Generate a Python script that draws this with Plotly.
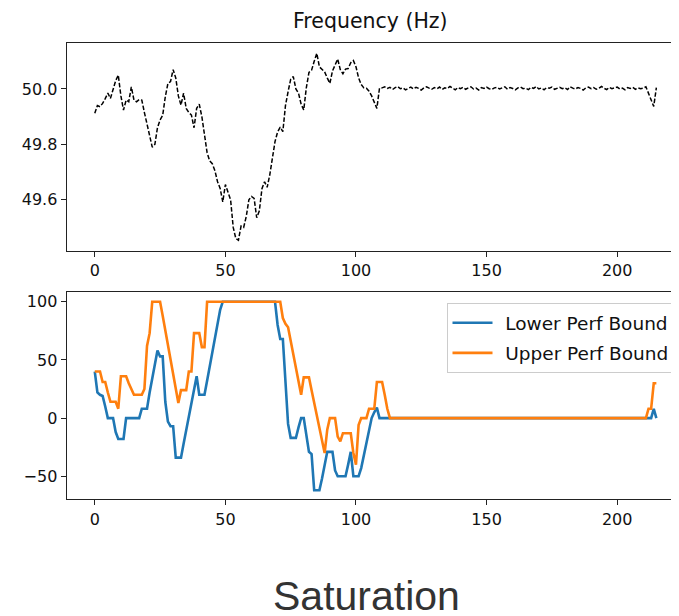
import plotly.graph_objects as go

# ---------------- data ----------------
time_idx = list(range(216))

freq_hz = [
    49.912, 49.940, 49.936, 49.948, 49.965, 49.985, 49.966, 49.995, 50.030, 50.050,
    49.975, 49.924, 49.960, 49.954, 50.008, 49.960, 49.954, 49.962, 49.960, 49.915,
    49.870, 49.834, 49.790, 49.800, 49.860, 49.888, 49.905, 49.972, 50.020, 50.027,
    50.070, 50.040, 49.975, 49.942, 49.985, 49.930, 49.915, 49.906, 49.860, 49.930,
    49.945, 49.900, 49.840, 49.770, 49.740, 49.730, 49.705, 49.665, 49.641, 49.592,
    49.655, 49.630, 49.600, 49.500, 49.460, 49.454, 49.505, 49.500, 49.540, 49.600,
    49.612, 49.605, 49.535, 49.560, 49.640, 49.665, 49.645, 49.690, 49.760, 49.810,
    49.845, 49.862, 49.846, 49.940, 49.990, 50.035, 50.045, 50.000, 49.985, 49.945,
    49.924, 50.005, 50.060, 50.068, 50.100, 50.129, 50.080, 50.072, 50.062, 50.040,
    50.020, 50.065, 50.085, 50.108, 50.070, 50.055, 50.072, 50.074, 50.095, 50.103,
    50.080, 50.040, 50.016, 50.004, 50.003, 49.992, 49.975, 49.955, 49.930, 50.003,
    50.004, 50.008, 50.002, 50.006, 49.998, 50.005, 50.009, 50.001, 50.004, 49.997,
    50.003, 50.007, 50.000, 50.006, 50.002, 49.996, 50.004, 50.008, 50.003, 49.999,
    50.005, 50.001, 50.007, 49.998, 50.004, 50.002, 50.009, 50.003, 49.997, 50.005,
    50.001, 50.006, 49.999, 50.004, 50.008, 50.000, 50.003, 49.996, 50.005, 50.002,
    50.007, 50.001, 49.998, 50.004, 50.006, 50.000, 50.003, 50.008, 49.999, 50.005,
    50.002, 49.997, 50.004, 50.007, 50.001, 50.003, 49.998, 50.006, 50.002, 50.009,
    50.000, 50.004, 49.997, 50.005, 50.003, 50.007, 49.999, 50.002, 50.006, 50.001,
    50.004, 49.998, 50.008, 50.003, 50.000, 50.005, 50.002, 49.996, 50.004, 50.007,
    50.001, 50.005, 49.999, 50.003, 50.009, 50.002, 49.998, 50.006, 50.001, 50.004,
    50.007, 50.000, 50.003, 49.997, 50.005, 50.002, 50.006, 49.999, 50.004, 50.001,
    50.003,
    50.008, 49.985, 49.960, 49.937, 50.005,
]

lower_perf_bound = (
    [40, 22, 20, 19, 10, 0, 0, 0, -12, -18, -18, -18]
    + [0] * 6
    + [8, 8, 8, 22, 35, 48, 58, 53, 53, 14, -3, -7, -7, -34, -34, -34,
       -22, -10, 3, 15, 27, 36, 20, 20, 20, 32, 44, 56, 68, 80, 93]
    + [100] * 21
    + [80, 68, 68, 30, -5, -17, -17, -17, -8, 0, 0, -15, -29, -31,
       -62, -62, -62, -52, -40, -29, -29, -29, -45, -50, -50, -50, -50,
       -40, -29, -50, -50, -50, -43, -32, -20, -10, 0, 5, 9]
    + [0] * 105
    + [8, 0]
)

upper_perf_bound = (
    [40, 40, 40, 31, 31, 22, 14, 14, 14, 8, 36, 36, 36, 30, 25,
     20, 20, 20, 20, 25, 62, 73, 100, 100, 100, 100,
     88, 75, 63, 50, 38, 25, 13, 24, 24, 24, 40, 40, 73, 73, 73, 61, 61]
    + [100] * 29
    + [86, 81, 78, 66, 55, 43, 31, 20, 35, 35, 35, 24, 13, 2, -9, -20, -30,
       -10, 0, 0, 0, -16, -20, -13, -13, -13, -13, -30, -40, -6, 0, 0, 0,
       8, 8, 8, 31, 31, 31, 20, 8]
    + [0] * 99
    + [8, 8, 30, 30]
)

series_names = ["Lower Perf Bound", "Upper Perf Bound"]
freq_ticks = [49.6, 49.8, 50.0]
freq_tick_text = ["49.6", "49.8", "50.0"]
bound_ticks = [-50, 0, 50, 100]
bound_tick_text = ["\u221250", "0", "50", "100"]
x_ticks = [0, 50, 100, 150, 200]

# ---------------- figure ----------------
PAGE_W, PAGE_H = 679, 616
OFF = 8                      # page body margin
W, H = PAGE_W - OFF, PAGE_H - OFF
TICKFONT = dict(family="DejaVu Sans", size=16, color="#111111")
LEGEND_PAD = "\u00a0\u200a"  # small gap between legend line and its label


def px_x(page_x):
    return (page_x - OFF) / W


def px_y(page_y):
    return 1 - (page_y - OFF) / H


fig = go.Figure()
fig.add_trace(go.Scatter(
    x=time_idx, y=freq_hz, mode="lines", showlegend=False,
    line=dict(color="black", width=1.5, dash="4.5px,2px"),
    xaxis="x", yaxis="y"))
fig.add_trace(go.Scatter(
    x=time_idx, y=lower_perf_bound, mode="lines",
    name=LEGEND_PAD + series_names[0],
    line=dict(color="#1f77b4", width=2.6), legendgroup="a",
    xaxis="x2", yaxis="y2"))
fig.add_trace(go.Scatter(
    x=time_idx, y=upper_perf_bound, mode="lines",
    name=LEGEND_PAD + series_names[1],
    line=dict(color="#ff7f0e", width=2.6), legendgroup="b",
    xaxis="x2", yaxis="y2"))

x_left_page = 66.7
x_dom = [px_x(x_left_page), 1.0]
x_range = [-10.75, -10.75 + (PAGE_W - x_left_page) / 2.612]

axis_common = dict(
    showgrid=False, zeroline=False, showline=True, linecolor="#222222",
    linewidth=1.3, ticks="outside", ticklen=5, tickwidth=1.2,
    tickcolor="#222222", tickfont=TICKFONT,
)


def ydom(top_page, bottom_page):
    return [px_y(bottom_page), px_y(top_page)]


fig.update_layout(
    width=W, height=H, autosize=False,
    margin=dict(l=0, r=0, t=0, b=0, pad=0),
    template="none",
    paper_bgcolor="white", plot_bgcolor="white",
    xaxis=dict(domain=x_dom, anchor="y", range=x_range, tickvals=x_ticks,
               mirror=True, **axis_common),
    yaxis=dict(domain=ydom(43.3, 250.7), anchor="x", range=[49.416, 50.165],
               tickvals=freq_ticks, ticktext=freq_tick_text, mirror=False,
               **axis_common),
    xaxis2=dict(domain=x_dom, anchor="y2", range=x_range, tickvals=x_ticks,
                mirror=True, **axis_common),
    yaxis2=dict(domain=ydom(292.3, 499.3), anchor="x2", range=[-69.8, 108.1],
                tickvals=bound_ticks, ticktext=bound_tick_text, mirror=False,
                **axis_common),
    legend=dict(
        x=px_x(446.5), y=px_y(303.3), xanchor="left", yanchor="top",
        bgcolor="rgba(255,255,255,0.9)", bordercolor="#cccccc", borderwidth=1,
        font=dict(family="DejaVu Sans", size=18.5, color="#111111"),
        itemwidth=40, tracegroupgap=3,
    ),
    annotations=[
        dict(text="Frequency (Hz)", x=px_x(370), y=px_y(21), xref="paper",
             yref="paper", showarrow=False, xanchor="center", yanchor="middle",
             font=dict(family="DejaVu Sans", size=20.5, color="#111111")),
        dict(text="Saturation", x=px_x(366), y=px_y(596), xref="paper",
             yref="paper", showarrow=False, xanchor="center", yanchor="middle",
             font=dict(family="Liberation Sans", size=41, color="#333333")),
    ],
)

fig.write_html("out.html")
